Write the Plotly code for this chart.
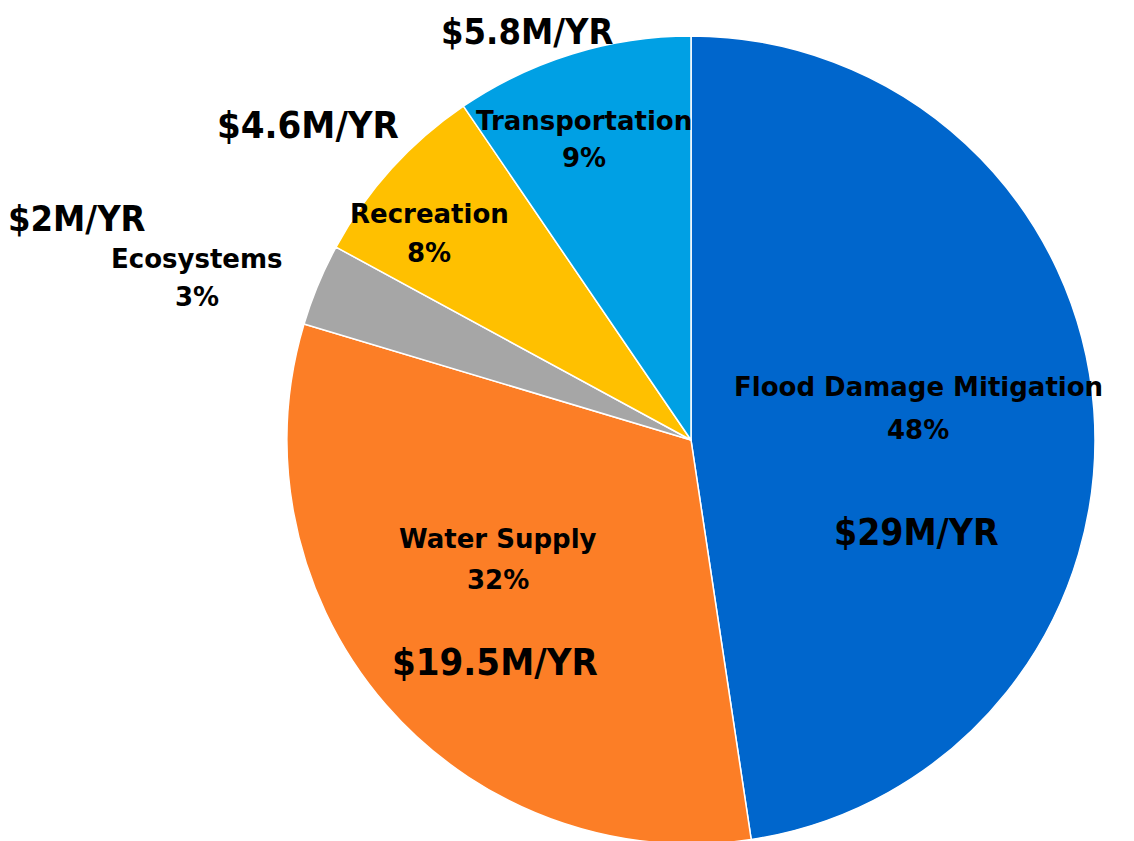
import plotly.graph_objects as go

categories = ["Flood Damage Mitigation", "Water Supply", "Ecosystems", "Recreation", "Transportation"]
values_musd = [29, 19.5, 2, 4.6, 5.8]
pct_labels = ["48%", "32%", "3%", "8%", "9%"]
money_labels = ["$29M/YR", "$19.5M/YR", "$2M/YR", "$4.6M/YR", "$5.8M/YR"]
colors = ["#0066CC", "#FC7E26", "#A6A6A6", "#FFC000", "#00A0E4"]

W, H = 1134, 841
OFF = 8  # page body margin
FONT_CAT = "DejaVu Sans, sans-serif"
FONT_MONEY = "DejaVu Sans Condensed, DejaVu Sans, sans-serif"

# pie centre / radius in screen pixels
cx, cy, r = 691, 440, 404
pcx, pcy = cx - OFF, cy - OFF

fig = go.Figure(go.Pie(
    labels=categories,
    values=values_musd,
    sort=False,
    direction="clockwise",
    rotation=0,
    marker=dict(colors=colors, line=dict(color="white", width=1.5)),
    textinfo="none",
    hoverinfo="label+value",
    showlegend=False,
    domain=dict(x=[(pcx - r) / W, (pcx + r) / W],
                y=[max(0, (H - pcy - r) / H), (H - pcy + r) / H]),
))

cat_pos = [(918, 387), (498, 539), (197, 259), (429, 214), (584, 121)]
pct_pos = [(918, 430), (498, 580), (197, 297), (429, 253), (584, 158)]
money_pos = [(916, 532), (495, 662), (77, 218), (308, 125), (527, 32)]
money_size = [37, 38, 36, 38, 36]

ann = []
def add(txt, x, y, size, family):
    ann.append(dict(text="<b>" + txt + "</b>", x=(x - OFF) / W, y=1 - (y - OFF) / H,
                    xref="paper", yref="paper", xanchor="center", yanchor="middle",
                    showarrow=False, font=dict(family=family, size=size, color="black")))

for i in range(len(categories)):
    add(categories[i], *cat_pos[i], 26, FONT_CAT)
    add(pct_labels[i], *pct_pos[i], 26, FONT_CAT)
    add(money_labels[i], *money_pos[i], money_size[i], FONT_MONEY)

fig.update_layout(width=W, height=H, margin=dict(l=0, r=0, t=0, b=0),
                  paper_bgcolor="white", plot_bgcolor="white", annotations=ann)
fig.write_html("out.html")
